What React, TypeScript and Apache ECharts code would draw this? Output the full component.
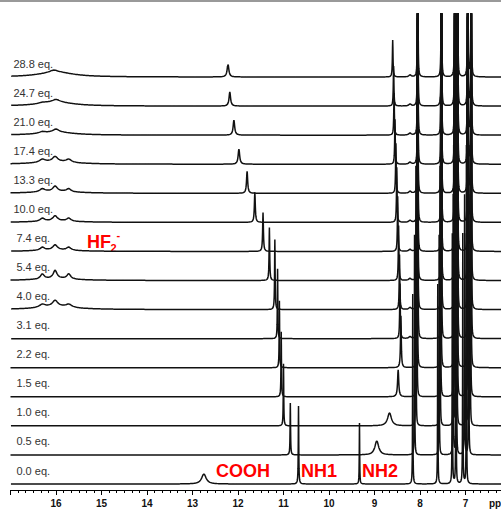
import React, { useEffect, useRef } from "react";
import * as echarts from "echarts";

// Spectrum labels, bottom to top
const LABELS = [
  "0.0 eq.", "0.5 eq.", "1.0 eq.", "1.5 eq.", "2.2 eq.", "3.1 eq.", "4.0 eq.",
  "5.4 eq.", "7.4 eq.", "10.0 eq.", "13.3 eq.", "17.4 eq.", "21.0 eq.", "24.7 eq.", "28.8 eq.",
];

// Peak tables: [shift (ppm), height (px), half-width (ppm)]
type Peak = [number, number, number];

const AROM_HI: Peak[] = [
  [8.22, 2, 0.03], [8.05, 350, 0.004], [7.53, 350, 0.004], [7.235, 350, 0.004],
  [7.175, 350, 0.004], [6.95, 350, 0.004], [6.875, 350, 0.004],
];
const HF_40: Peak[] = [[16.0, 3, 0.5], [16.3, 3, 0.08], [16.02, 6, 0.07], [15.72, 3, 0.08]];
const HF_54: Peak[] = [[16.0, 2, 0.5], [16.3, 5, 0.05], [16.02, 8, 0.05], [15.72, 5, 0.05]];
const HF_74: Peak[] = [[16.0, 1.5, 0.5], [16.3, 3, 0.06], [16.02, 5, 0.06], [15.72, 3, 0.06]];
const HF_100: Peak[] = [[16.0, 1.5, 0.5], [16.3, 3, 0.06], [16.02, 5, 0.06], [15.72, 3, 0.06]];
const HF_133: Peak[] = [[16.0, 2, 0.5], [16.3, 3, 0.07], [16.02, 5, 0.06], [15.72, 3, 0.06]];
const HF_174: Peak[] = [[16.0, 2.5, 0.5], [16.3, 3, 0.08], [16.02, 5, 0.07], [15.72, 3, 0.07]];
const HF_210: Peak[] = [[16.0, 3, 0.45], [16.0, 3, 0.08], [16.3, 1.5, 0.08]];
const HF_247: Peak[] = [[16.0, 4, 0.45], [16.0, 2.5, 0.1], [16.3, 1, 0.1]];
const HF_288: Peak[] = [[16.0, 5, 0.45], [16.05, 2, 0.1]];

const S00: Peak[] = [
  [12.75, 10, 0.06], [10.67, 78, 0.006], [9.33, 61, 0.005],
  [8.16, 190, 0.004], [7.61, 200, 0.004], [7.29, 250, 0.004], [7.21, 250, 0.004],
  [7.06, 250, 0.004], [6.98, 250, 0.004],
];
const S05: Peak[] = [
  [10.85, 52, 0.006], [8.95, 14, 0.05],
  [8.12, 220, 0.004], [7.58, 220, 0.004], [7.27, 260, 0.004], [7.2, 260, 0.004],
  [7.02, 260, 0.004], [6.93, 260, 0.004],
];
const S10: Peak[] = [
  [11.0, 62, 0.006], [8.67, 13, 0.05],
  [8.09, 260, 0.004], [7.56, 260, 0.004], [7.26, 280, 0.004], [7.19, 280, 0.004],
  [6.98, 280, 0.004], [6.9, 280, 0.004],
];
const S15: Peak[] = [
  [11.05, 65, 0.006], [8.48, 27, 0.015],
  [8.07, 300, 0.004], [7.55, 300, 0.004], [7.25, 300, 0.004], [7.18, 300, 0.004],
  [6.97, 300, 0.004], [6.89, 300, 0.004],
];
const S22: Peak[] = [
  [11.09, 67, 0.006], [8.42, 52, 0.01],
  [8.06, 350, 0.004], [7.54, 350, 0.004], [7.24, 350, 0.004], [7.18, 350, 0.004],
  [6.96, 350, 0.004], [6.88, 350, 0.004],
];
const S31: Peak[] = [[11.13, 70, 0.006], [8.44, 55, 0.008], ...AROM_HI];
const S40: Peak[] = [[11.19, 70, 0.007], [8.45, 55, 0.008], ...HF_40, ...AROM_HI];
const S54: Peak[] = [[11.31, 53, 0.008], [8.47, 55, 0.008], ...HF_54, ...AROM_HI];
const S74: Peak[] = [[11.45, 39, 0.01], [8.49, 55, 0.008], ...HF_74, ...AROM_HI];
const S100: Peak[] = [[11.63, 30, 0.012], [8.51, 55, 0.008], ...HF_100, ...AROM_HI];
const S133: Peak[] = [[11.8, 22, 0.015], [8.53, 50, 0.008], ...HF_133, ...AROM_HI];
const S174: Peak[] = [[11.98, 15, 0.02], [8.55, 45, 0.008], ...HF_174, ...AROM_HI];
const S210: Peak[] = [[12.09, 15, 0.02], [8.57, 42, 0.008], ...HF_210, ...AROM_HI];
const S247: Peak[] = [[12.18, 14, 0.02], [8.58, 40, 0.008], ...HF_247, ...AROM_HI];
const S288: Peak[] = [[12.22, 13, 0.022], [8.6, 37, 0.008], ...HF_288, ...AROM_HI];

const SPECTRA: Peak[][] = [S00, S05, S10, S15, S22, S31, S40, S54, S74, S100, S133, S174, S210, S247, S288];

const X_MIN = 6;
const X_MAX = 17;
const BASE0 = 6;       // vertical offset of the lowest trace (px units of the y axis)
const STEP = 29.07;    // stacking offset between traces

function trace(peaks: Peak[], offset: number): number[][] {
  const xs: number[] = [];
  for (let i = 0; i <= 2200; i++) xs.push(X_MIN + i * 0.005);
  peaks.forEach(([c, , w]) => {
    xs.push(c, c - w * 0.5, c + w * 0.5, c - w, c + w, c - 2 * w, c + 2 * w);
  });
  xs.sort((a, b) => a - b);
  return xs.map((x) => [
    x,
    offset + peaks.reduce((s, [c, h, w]) => s + (h * w * w) / ((x - c) * (x - c) + w * w), 0),
  ]);
}

export default function App() {
  const ref = useRef<HTMLDivElement>(null);
  useEffect(() => {
    if (!ref.current) return;
    const chart = echarts.init(ref.current, null, { renderer: "svg" });
    const series: any[] = SPECTRA.map((peaks, i) => {
      const offset = BASE0 + i * STEP;
      return {
        type: "line",
        data: trace(peaks, offset),
        showSymbol: false,
        symbol: "none",
        clip: true,
        silent: true,
        lineStyle: { color: "#111", width: 1.5 },
        markPoint: {
          symbol: "circle",
          symbolSize: 0,
          silent: true,
          data: [{ coord: [16.5, offset + 13.5] }],
          label: {
            show: true,
            position: "inside",
            formatter: LABELS[i],
            color: "#333",
            fontSize: 11,
            fontFamily: "Liberation Sans",
          },
        },
      };
    });
    const red = { fill: "#ff0000", fontFamily: "Liberation Sans", fontWeight: "bold" as const };
    chart.setOption({
      animation: false,
      backgroundColor: "#fff",
      grid: { left: 10.5, right: 0, top: 14, bottom: 19 },
      xAxis: {
        type: "value",
        inverse: true,
        min: X_MIN,
        max: X_MAX,
        interval: 1,
        splitLine: { show: false },
        axisLine: { show: true, onZero: false, lineStyle: { color: "#000", width: 1 } },
        axisTick: { show: true, inside: false, length: 5, lineStyle: { color: "#000" } },
        minorTick: { show: true, splitNumber: 6, length: 3, lineStyle: { color: "#000" } },
        axisLabel: {
          show: true,
          margin: 8,
          color: "#111",
          fontSize: 10,
          fontWeight: "bold",
          fontFamily: "Liberation Sans",
          showMinLabel: false,
          showMaxLabel: false,
        },
      },
      yAxis: { type: "value", min: 0, max: 476, show: false },
      series,
      graphic: [
        { type: "rect", shape: { x: 0, y: 0, width: 511, height: 2 }, style: { fill: "#999" }, silent: true },
        { type: "text", x: 243, y: 471, style: { ...red, text: "COOH", fontSize: 18, textAlign: "center", textVerticalAlign: "middle" } },
        { type: "text", x: 319, y: 471, style: { ...red, text: "NH1", fontSize: 18, textAlign: "center", textVerticalAlign: "middle" } },
        { type: "text", x: 380, y: 471, style: { ...red, text: "NH2", fontSize: 18, textAlign: "center", textVerticalAlign: "middle" } },
        { type: "text", x: 87, y: 241.5, style: { ...red, text: "HF", fontSize: 18, textAlign: "left", textVerticalAlign: "middle" } },
        { type: "text", x: 110.5, y: 247.5, style: { ...red, text: "2", fontSize: 11, textAlign: "left", textVerticalAlign: "middle" } },
        { type: "text", x: 116.5, y: 235, style: { ...red, text: "-", fontSize: 11, textAlign: "left", textVerticalAlign: "middle" } },
        { type: "text", x: 489, y: 503, style: { text: "ppm", fill: "#111", fontSize: 10, fontWeight: "bold", fontFamily: "Liberation Sans", textVerticalAlign: "middle" } },
      ],
    });
    return () => chart.dispose();
  }, []);
  return (
    <div style={{ position: "absolute", left: 0, top: 0, width: 501, height: 509, overflow: "hidden" }}>
      <div ref={ref} style={{ width: 511, height: 509 }} />
    </div>
  );
}
